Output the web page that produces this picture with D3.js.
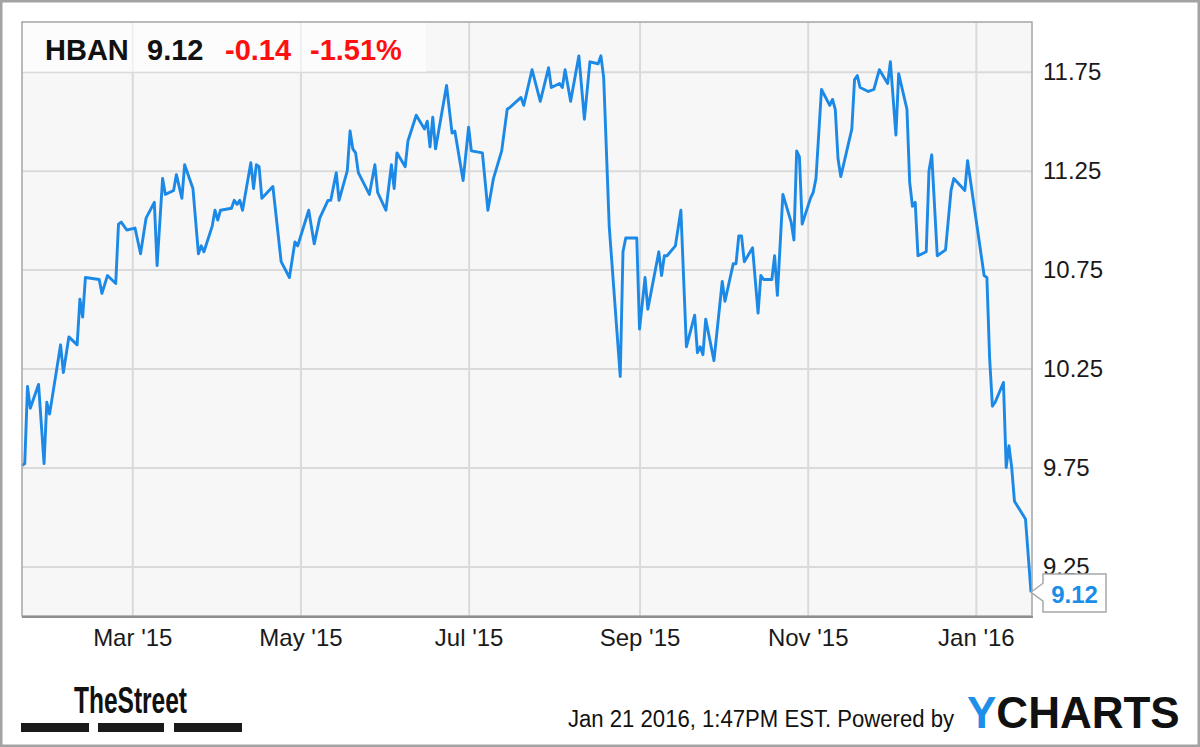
<!DOCTYPE html>
<html><head><meta charset="utf-8">
<script src="https://cdn.jsdelivr.net/npm/d3@7"></script>
<style>html,body{margin:0;padding:0;background:#fff;} svg{display:block;font-family:"Liberation Sans",Arial,Helvetica,sans-serif;}</style>
</head><body><svg id="chart" width="1200" height="747"></svg>
<script>
const ticker = "HBAN", lastPrice = "9.12", change = "-0.14", changePct = "-1.51%";
const dates = ["2015-01-20","2015-01-21","2015-01-22","2015-01-23","2015-01-26","2015-01-28","2015-01-29","2015-01-30",
"2015-02-03","2015-02-04","2015-02-06","2015-02-09","2015-02-10","2015-02-11","2015-02-12","2015-02-17","2015-02-18","2015-02-20","2015-02-23","2015-02-24","2015-02-25","2015-02-27",
"2015-03-02","2015-03-04","2015-03-06","2015-03-09","2015-03-10","2015-03-12","2015-03-13","2015-03-16","2015-03-17","2015-03-19","2015-03-20","2015-03-23","2015-03-25","2015-03-26","2015-03-27","2015-03-30","2015-03-31",
"2015-04-01","2015-04-02","2015-04-06","2015-04-07","2015-04-08","2015-04-09","2015-04-10","2015-04-13","2015-04-14","2015-04-15","2015-04-16","2015-04-17","2015-04-21","2015-04-24","2015-04-27","2015-04-29","2015-04-30",
"2015-05-04","2015-05-06","2015-05-08","2015-05-11","2015-05-12","2015-05-14","2015-05-15","2015-05-18","2015-05-19","2015-05-20","2015-05-21","2015-05-22","2015-05-26","2015-05-28","2015-05-29",
"2015-06-01","2015-06-03","2015-06-04","2015-06-05","2015-06-08","2015-06-09","2015-06-12","2015-06-15","2015-06-16","2015-06-17","2015-06-18","2015-06-19","2015-06-23","2015-06-25","2015-06-26","2015-06-29",
"2015-07-01","2015-07-02","2015-07-06","2015-07-08","2015-07-10","2015-07-13","2015-07-15","2015-07-16","2015-07-20","2015-07-21","2015-07-24","2015-07-27","2015-07-30","2015-07-31",
"2015-08-03","2015-08-04","2015-08-05","2015-08-07","2015-08-10","2015-08-12","2015-08-14","2015-08-17","2015-08-18","2015-08-19","2015-08-21","2015-08-25","2015-08-26","2015-08-27","2015-08-28","2015-08-31",
"2015-09-01","2015-09-03","2015-09-04","2015-09-08","2015-09-09","2015-09-10","2015-09-11","2015-09-14","2015-09-16","2015-09-18","2015-09-21","2015-09-22","2015-09-23","2015-09-24","2015-09-25","2015-09-28",
"2015-10-01","2015-10-02","2015-10-05","2015-10-06","2015-10-07","2015-10-08","2015-10-09","2015-10-12","2015-10-14","2015-10-15","2015-10-16","2015-10-19","2015-10-20","2015-10-21","2015-10-23","2015-10-26","2015-10-27","2015-10-28","2015-10-29","2015-10-30",
"2015-11-02","2015-11-03","2015-11-04","2015-11-06","2015-11-09","2015-11-10","2015-11-11","2015-11-12","2015-11-13","2015-11-17","2015-11-18","2015-11-19","2015-11-20","2015-11-23","2015-11-25","2015-11-27","2015-11-30",
"2015-12-01","2015-12-03","2015-12-04","2015-12-07","2015-12-08","2015-12-09","2015-12-10","2015-12-11","2015-12-14","2015-12-15","2015-12-16","2015-12-18","2015-12-21","2015-12-23","2015-12-24","2015-12-28","2015-12-29",
"2016-01-04","2016-01-05","2016-01-06","2016-01-07","2016-01-08","2016-01-11","2016-01-12","2016-01-13","2016-01-14","2016-01-15","2016-01-19","2016-01-21"];
const closes = [9.76,9.77,10.16,10.05,10.17,9.77,10.08,10.02,
10.37,10.23,10.41,10.37,10.60,10.51,10.71,10.70,10.63,10.72,10.68,10.98,10.99,10.95,
10.96,10.83,11.01,11.09,10.77,11.21,11.13,11.15,11.23,11.11,11.28,11.16,10.83,10.87,10.84,10.97,11.05,
11.00,11.05,11.06,11.10,11.08,11.10,11.05,11.29,11.16,11.28,11.27,11.11,11.17,10.79,10.71,10.89,10.87,
11.05,10.88,11.01,11.10,11.10,11.24,11.10,11.25,11.45,11.36,11.34,11.24,11.13,11.28,11.14,
11.05,11.28,11.16,11.34,11.27,11.40,11.53,11.46,11.50,11.37,11.52,11.36,11.68,11.44,11.45,11.20,
11.47,11.35,11.34,11.05,11.21,11.35,11.56,11.57,11.62,11.58,11.76,11.60,11.77,11.67,
11.69,11.67,11.76,11.60,11.83,11.51,11.80,11.79,11.83,11.72,10.97,10.21,10.84,10.91,10.91,10.91,
10.45,10.71,10.55,10.84,10.72,10.82,10.82,10.87,11.05,10.36,10.52,10.33,10.36,10.32,10.50,10.29,
10.69,10.59,10.78,10.78,10.92,10.92,10.79,10.86,10.53,10.72,10.70,10.70,10.82,10.62,11.13,10.99,10.90,11.35,11.32,10.98,
11.11,11.14,11.21,11.66,11.58,11.61,11.56,11.31,11.22,11.46,11.71,11.73,11.67,11.65,11.66,11.76,11.69,
11.80,11.43,11.74,11.56,11.19,11.07,11.09,10.82,10.84,11.25,11.33,10.82,10.85,11.15,11.21,11.15,11.30,
10.72,10.71,10.30,10.06,10.08,10.18,9.75,9.86,9.75,9.58,9.49,9.12];
const yTicks = [9.25, 9.75, 10.25, 10.75, 11.25, 11.75];
const xTickDates = ["2015-03-01","2015-05-01","2015-07-01","2015-09-01","2015-11-01","2016-01-01"];
const xTickLabels = ["Mar '15","May '15","Jul '15","Sep '15","Nov '15","Jan '16"];
const xDomain = ["2015-01-20","2016-01-21"];
const yDomain = [9, 12];
const footerText = "Jan 21 2016, 1:47PM EST. Powered by";

const parse = d3.timeParse("%Y-%m-%d");
const data = dates.map((d, i) => ({date: parse(d), close: closes[i]}));
const plot = {left: 22, right: 1032, top: 22, bottom: 616};
const x = d3.scaleTime().domain(xDomain.map(parse)).range([22, 1031]);
const y = d3.scaleLinear().domain(yDomain).range([616, 22.2]);
const svg = d3.select("#chart");
const lineColor = "#1c89e6";

// outer frame
svg.append("rect").attr("x", 1.25).attr("y", 1.25).attr("width", 1197.5).attr("height", 744.5)
  .attr("fill", "#fff").attr("stroke", "#a3a3a3").attr("stroke-width", 2.5);

// plot background
svg.append("rect").attr("x", plot.left).attr("y", plot.top)
  .attr("width", plot.right - plot.left).attr("height", plot.bottom - plot.top).attr("fill", "#f7f7f7");

// grid lines
const gy = svg.append("g").attr("transform", `translate(${plot.left},0)`)
  .call(d3.axisLeft(y).tickValues(yTicks).tickSize(-(plot.right - plot.left)).tickFormat(""));
const gx = svg.append("g").attr("transform", `translate(0,${plot.bottom})`)
  .call(d3.axisBottom(x).tickValues(xTickDates.map(parse)).tickSize(-(plot.bottom - plot.top)).tickFormat(""));
[gy, gx].forEach(g => {
  g.select(".domain").remove();
  g.selectAll("line").attr("stroke", "#dadada").attr("stroke-width", 2);
});

// header overlay
svg.append("rect").attr("x", plot.left).attr("y", plot.top).attr("width", 404).attr("height", 50)
  .attr("fill", "#ffffff").attr("fill-opacity", 0.6);

// price line
const line = d3.line().x(d => x(d.date)).y(d => y(d.close));
svg.append("path").datum(data).attr("d", line).attr("fill", "none")
  .attr("stroke", lineColor).attr("stroke-width", 2.9).attr("stroke-linejoin", "round");

// plot border
svg.append("rect").attr("x", plot.left).attr("y", plot.top)
  .attr("width", plot.right - plot.left).attr("height", plot.bottom - plot.top)
  .attr("fill", "none").attr("stroke", "#a5a5a5").attr("stroke-width", 1.5);
svg.append("line").attr("x1", plot.left).attr("x2", plot.right + 1).attr("y1", plot.bottom + 1).attr("y2", plot.bottom + 1)
  .attr("stroke", "#8f8f8f").attr("stroke-width", 2);

// header text
const head = svg.append("text").attr("y", 60).attr("font-size", 29).attr("font-weight", "bold");
head.append("tspan").attr("x", 45).attr("fill", "#111").text(ticker);
head.append("tspan").attr("x", 147).attr("fill", "#111").text(lastPrice);
head.append("tspan").attr("x", 225).attr("fill", "#ff1010").text(change);
head.append("tspan").attr("x", 310).attr("fill", "#ff1010").text(changePct);

// y axis labels (right)
const ya = svg.append("g").attr("transform", "translate(1043,0)")
  .call(d3.axisRight(y).tickValues(yTicks).tickSize(0).tickPadding(0).tickFormat(d3.format(".2f")));
ya.select(".domain").remove();
ya.selectAll("text").attr("font-size", 24).attr("fill", "#1a1a1a").attr("font-family", "Liberation Sans, Arial, sans-serif");

// x axis labels
const xa = svg.append("g").attr("transform", `translate(0,${plot.bottom})`)
  .call(d3.axisBottom(x).tickValues(xTickDates.map(parse)).tickSize(0).tickPadding(13)
    .tickFormat((d, i) => xTickLabels[i]));
xa.select(".domain").remove();
xa.selectAll("text").attr("font-size", 24).attr("fill", "#1a1a1a").attr("font-family", "Liberation Sans, Arial, sans-serif");

// last value callout
const last = data[data.length - 1];
const tx = x(last.date), ty = y(last.close);
const bx0 = 1043, bx1 = 1106, by0 = 574, by1 = 612;
svg.append("path")
  .attr("d", `M${tx},${ty} L${bx0},${ty - 9} L${bx0},${by0} L${bx1},${by0} L${bx1},${by1} L${bx0},${by1} L${bx0},${ty + 9} Z`)
  .attr("fill", "#fff").attr("stroke", "#a8a8a8").attr("stroke-width", 1.5);
svg.append("text").attr("x", (bx0 + bx1) / 2).attr("y", 603).attr("text-anchor", "middle")
  .attr("font-size", 24).attr("font-weight", "bold").attr("fill", "#1a8de8").text(d3.format(".2f")(last.close));

// TheStreet logo
svg.append("text").attr("x", 74).attr("y", 713).attr("font-size", 36).attr("font-weight", "bold")
  .attr("fill", "#111").attr("textLength", 113).attr("lengthAdjust", "spacingAndGlyphs").text("TheStreet");
[[21, 68], [98, 66], [174, 68]].forEach(([bx, bw]) => {
  svg.append("rect").attr("x", bx).attr("y", 723).attr("width", bw).attr("height", 9).attr("fill", "#1a1a1a");
});

// footer
svg.append("text").attr("x", 568).attr("y", 727).attr("font-size", 23).attr("fill", "#111")
  .attr("textLength", 386).attr("lengthAdjust", "spacingAndGlyphs").text(footerText);
const yc = svg.append("text").attr("x", 967).attr("y", 728).attr("font-size", 44).attr("font-weight", "bold");
yc.append("tspan").attr("fill", "#1e8fe8").text("Y");
yc.append("tspan").attr("fill", "#111").text("CHARTS");
</script></body></html>
